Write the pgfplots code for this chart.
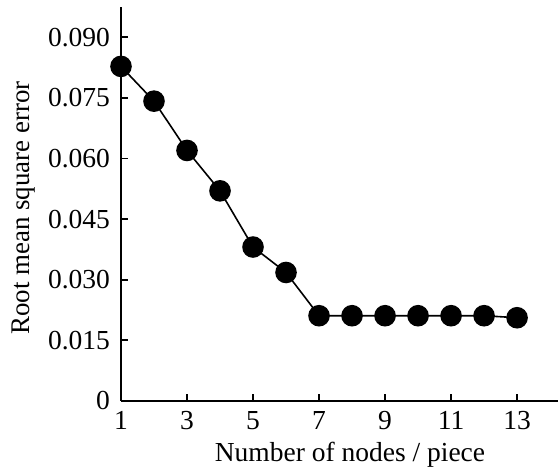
\documentclass[border=0pt]{standalone}
\usepackage{fontspec}
\setmainfont{Liberation Serif}
\usepackage{pgfplots}
\pgfplotsset{compat=1.18}
\begin{document}
\begin{tikzpicture}
\begin{axis}[
  scale only axis,
  width=218.5bp, height=197bp,
  xmin=1, xmax=14.24,
  ymin=0, ymax=0.0975,
  axis lines=left,
  axis line style={-, line width=1bp},
  tick style={line width=0.9bp, black},
  tick align=inside,
  major tick length=3.5bp,
  xtick={1,3,5,7,9,11,13},
  ytick={0,0.015,0.03,0.045,0.06,0.075,0.09},
  yticklabels={0,0.015,0.030,0.045,0.060,0.075,0.090},
  scaled y ticks=false,
  /pgf/number format/assume math mode=true,
  tick label style={font=\fontsize{13.8}{15}\selectfont},
  xticklabel style={yshift=-1.5bp},
  yticklabel style={xshift=-2bp},
  xlabel={Number of nodes / piece},
  ylabel={Root mean square error},
  xlabel style={font=\fontsize{13.8}{15}\selectfont, at={(axis description cs:0.524,0)}, anchor=base, yshift=-30.3bp},
  ylabel style={font=\fontsize{13.5}{15}\selectfont, at={(axis description cs:-0.222,0.49)}, anchor=center, rotate=0},
  clip=false,
]
\addplot[black, line width=0.8bp, mark=*, mark size=5bp, mark options={fill=black}]
coordinates {
(1,0.0828) (2,0.0742) (3,0.0620) (4,0.0520) (5,0.0381) (6,0.0318)
(7,0.0211) (8,0.0211) (9,0.0211) (10,0.0211) (11,0.0211) (12,0.0211) (13,0.0206)
};
\end{axis}
\path ([yshift=3.5bp]current axis.north west) circle (0pt);
\path ([xshift=-60.5bp]current axis.south west) circle (0pt);
\end{tikzpicture}
\end{document}
